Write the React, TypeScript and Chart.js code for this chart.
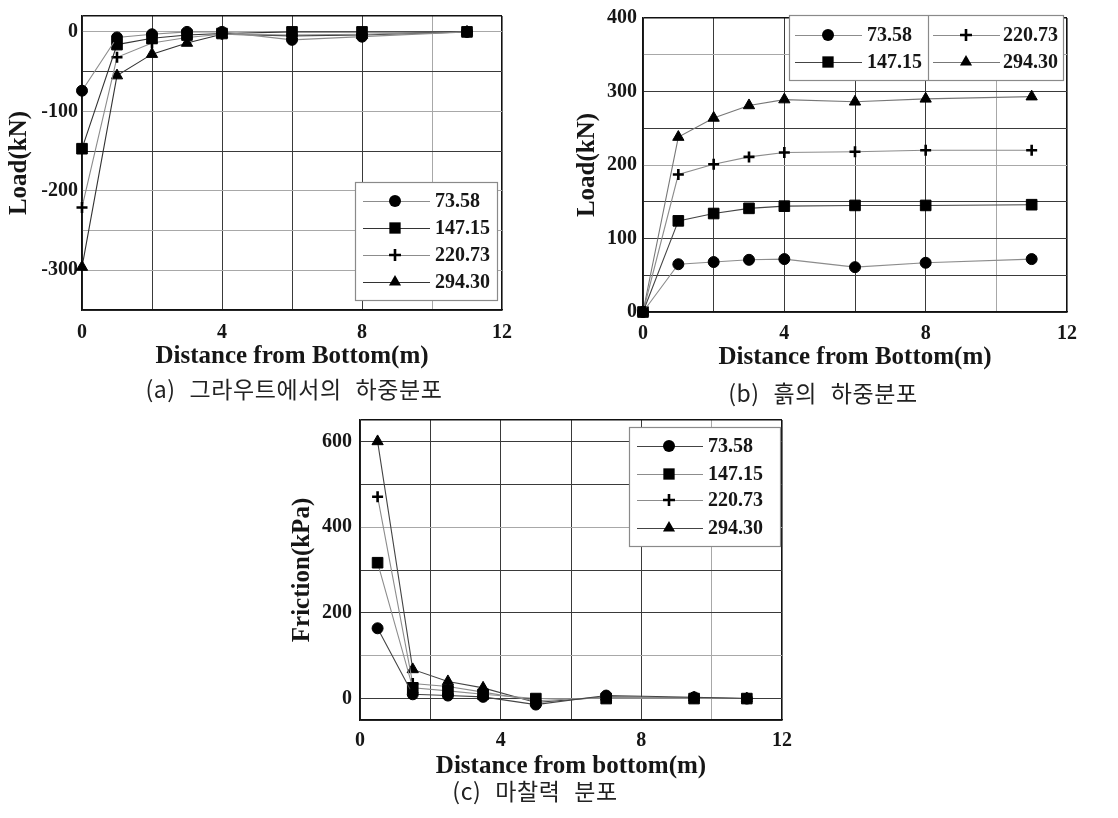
import React, { useEffect, useRef } from 'react';
import { Chart, registerables } from 'chart.js';

Chart.register(...registerables);

// ---------- data ----------
const seriesNames = ['73.58', '147.15', '220.73', '294.30'];
const pointStyles = ['circle', 'rect', 'cross', 'triangle'];

// (a) load distribution in grout
const xA = [0, 1, 2, 3, 4, 6, 8, 11];
const a7358 = [-74, -7, -3, 0, 0, -10, -6, 0];
const a14715 = [-147, -16, -8, -4, -2, 0, 0, 0];
const a22073 = [-221, -32, -14, -7, -3, -4, -3, 0];
const a29430 = [-296, -55, -28, -14, -3, -5, -4, 0];

// (b) load distribution in soil
const xB = [0, 1, 2, 3, 4, 6, 8, 11];
const b7358 = [0, 65, 68, 71, 72, 61, 67, 72];
const b14715 = [0, 124, 134, 141, 144, 145, 145, 146];
const b22073 = [0, 187, 201, 211, 217, 218, 220, 220];
const b29430 = [0, 238, 264, 281, 289, 286, 290, 293];

// (c) friction distribution
const xC = [0.5, 1.5, 2.5, 3.5, 5, 7, 9.5, 11];
const c7358 = [164, 10, 7, 4, -14, 7, 3, 0];
const c14715 = [317, 25, 18, 10, 0, 0, 0, 0];
const c22073 = [471, 35, 28, 15, -5, 3, 2, 0];
const c29430 = [600, 68, 40, 25, -9, 4, 2, 0];

// ticks
const xTicks = [0, 2, 4, 6, 8, 10, 12];
const xTickLabels = ['0', '', '4', '', '8', '', '12'];
const yTicksA = [-350, -300, -250, -200, -150, -100, -50, 0, 20];
const yLabelsA = ['', '-300', '', '-200', '', '-100', '', '0', ''];
const yTicksB = [0, 50, 100, 150, 200, 250, 300, 350, 400];
const yLabelsB = ['0', '', '100', '', '200', '', '300', '', '400'];
const yTicksC = [-50, 0, 100, 200, 300, 400, 500, 600, 650];
const yLabelsC = ['', '0', '', '200', '', '400', '', '600', ''];

const titleA = ['Distance from Bottom(m)', 'Load(kN)'];
const titleB = ['Distance from Bottom(m)', 'Load(kN)'];
const titleC = ['Distance from bottom(m)', 'Friction(kPa)'];
const captionA = '(a) 그라우트에서의 하중분포';
const captionB = '(b) 흙의 하중분포';
const captionC = '(c) 마찰력 분포';

// ---------- styling helpers ----------
const SERIF = '"Liberation Serif", "Times New Roman", serif';
const INK = '#161616';

function drawMarker(ctx: CanvasRenderingContext2D, style: string, x: number, y: number, r: number, bw: number) {
  ctx.beginPath();
  if (style === 'circle') {
    ctx.arc(x, y, r, 0, Math.PI * 2);
    ctx.fill();
  } else if (style === 'rect') {
    const s = Math.SQRT1_2 * r;
    ctx.rect(x - s, y - s, 2 * s, 2 * s);
    ctx.fill();
  } else if (style === 'cross') {
    ctx.lineWidth = bw;
    ctx.moveTo(x - r, y);
    ctx.lineTo(x + r, y);
    ctx.moveTo(x, y - r);
    ctx.lineTo(x, y + r);
    ctx.stroke();
  } else if (style === 'triangle') {
    let rad = 0;
    const t = (2 * Math.PI) / 3;
    ctx.moveTo(x + Math.sin(rad) * r, y - Math.cos(rad) * r);
    rad += t;
    ctx.lineTo(x + Math.sin(rad) * r, y - Math.cos(rad) * r);
    rad += t;
    ctx.lineTo(x + Math.sin(rad) * r, y - Math.cos(rad) * r);
    ctx.closePath();
    ctx.fill();
  }
}

const boxLegend = {
  id: 'boxLegend',
  afterDraw(chart: any, _args: any, opts: any) {
    const L = opts.layout;
    if (!L) return;
    const ctx: CanvasRenderingContext2D = chart.ctx;
    ctx.save();
    ctx.fillStyle = '#fff';
    ctx.fillRect(L.box[0], L.box[1], L.box[2], L.box[3]);
    ctx.strokeStyle = '#8a8a8a';
    ctx.lineWidth = 1.2;
    ctx.strokeRect(L.box[0] + 0.5, L.box[1] + 0.5, L.box[2], L.box[3]);
    if (L.divider) {
      ctx.beginPath();
      ctx.moveTo(L.divider + 0.5, L.box[1]);
      ctx.lineTo(L.divider + 0.5, L.box[1] + L.box[3]);
      ctx.stroke();
    }
    L.items.forEach((it: number[], i: number) => {
      const ds = chart.data.datasets[i];
      const [x1, x2, mx, tx, y] = it;
      ctx.strokeStyle = ds.borderColor;
      ctx.lineWidth = 1.2;
      ctx.beginPath();
      ctx.moveTo(x1, y + 0.5);
      ctx.lineTo(x2, y + 0.5);
      ctx.stroke();
      ctx.fillStyle = '#000';
      ctx.strokeStyle = '#000';
      drawMarker(ctx, ds.pointStyle, mx, y, ds.pointRadius + 0.5, ds.pointBorderWidth);
      ctx.fillStyle = INK;
      ctx.font = `bold 20px ${SERIF}`;
      ctx.textAlign = 'left';
      ctx.textBaseline = 'middle';
      ctx.fillText(ds.label, tx, y + 1);
    });
    ctx.restore();
  },
};

const radii: Record<string, number> = { circle: 5.5, rect: 7.5, cross: 5.5, triangle: 6.5 };

function buildConfig(p: any) {
  const datasets = p.series.map((vals: number[], i: number) => ({
    label: seriesNames[i],
    data: p.x.map((xv: number, j: number) => ({ x: xv, y: vals[j] })),
    borderColor: p.lineColors[i],
    borderWidth: 1.1,
    pointStyle: pointStyles[i],
    pointRadius: radii[pointStyles[i]],
    pointBorderWidth: pointStyles[i] === 'cross' ? 2.6 : 1,
    pointBackgroundColor: '#000',
    pointBorderColor: '#000',
    clip: false,
    tension: 0,
    fill: false,
  }));
  const gridColor = (light: number[], edge: number[]) => (c: any) => {
    const v = c.tick ? c.tick.value : null;
    if (edge.includes(v)) return '#111';
    return light.includes(v) ? '#a8a8a8' : '#3a3a3a';
  };
  const gridWidth = (edge: number[]) => (c: any) => (c.tick && edge.includes(c.tick.value) ? 1.6 : 1);
  return {
    type: 'scatter',
    data: { datasets },
    plugins: [boxLegend],
    options: {
      animation: false,
      responsive: false,
      showLine: true,
      layout: { padding: { left: 0, top: p.top, right: p.right, bottom: 0 } },
      plugins: {
        legend: { display: false },
        tooltip: { enabled: false },
        boxLegend: { layout: p.legend },
      },
      scales: {
        x: {
          type: 'linear',
          min: 0,
          max: 12,
          afterBuildTicks: (s: any) => {
            s.ticks = xTicks.map((v) => ({ value: v }));
          },
          afterFit: (s: any) => {
            s.height = p.xAxisH;
          },
          ticks: {
            autoSkip: false,
            maxRotation: 0,
            padding: p.xTickPad,
            color: INK,
            font: { family: SERIF, weight: 'bold', size: 20 },
            callback: (_v: any, i: number) => xTickLabels[i],
          },
          grid: {
            drawTicks: false,
            color: gridColor(p.xLight, [12]),
            lineWidth: gridWidth([12]),
          },
          border: { color: '#111', width: 1.6 },
          title: {
            display: true,
            text: p.titles[0],
            color: INK,
            font: { family: SERIF, weight: 'bold', size: 25 },
            padding: { top: 0, bottom: p.xTitlePad },
          },
        },
        y: {
          type: 'linear',
          min: p.yTicks[0],
          max: p.yTicks[p.yTicks.length - 1],
          afterBuildTicks: (s: any) => {
            s.ticks = p.yTicks.map((v: number) => ({ value: v }));
          },
          afterFit: (s: any) => {
            s.width = p.yAxisW;
          },
          ticks: {
            autoSkip: false,
            padding: p.yTickPad,
            color: INK,
            font: { family: SERIF, weight: 'bold', size: 20 },
            callback: (_v: any, i: number) => p.yLabels[i],
          },
          grid: {
            drawTicks: false,
            color: gridColor(p.yLight, [p.yTicks[p.yTicks.length - 1]]),
            lineWidth: gridWidth([p.yTicks[p.yTicks.length - 1]]),
          },
          border: { color: '#111', width: 1.6 },
          title: {
            display: true,
            text: p.titles[1],
            color: INK,
            font: { family: SERIF, weight: 'bold', size: 25 },
            padding: { top: p.yTitlePad, bottom: 0 },
          },
        },
      },
    },
  };
}

function Panel(props: { p: any; left: number; top: number; w: number; h: number }) {
  const ref = useRef<HTMLCanvasElement>(null);
  useEffect(() => {
    if (!ref.current) return;
    const chart = new Chart(ref.current, buildConfig(props.p) as any);
    return () => chart.destroy();
  }, []);
  return (
    <canvas
      ref={ref}
      width={props.w}
      height={props.h}
      style={{ position: 'absolute', left: props.left, top: props.top, width: props.w, height: props.h }}
    />
  );
}

const panelA = {
  x: xA,
  series: [a7358, a14715, a22073, a29430],
  lineColors: ['#8c8c8c', '#333', '#8c8c8c', '#333'],
  yTicks: yTicksA,
  yLabels: yLabelsA,
  titles: titleA,
  top: 10,
  right: 43,
  yAxisW: 82,
  xAxisH: 65,
  xTickPad: 11,
  xTitlePad: 3,
  yTickPad: 4,
  yTitlePad: 5,
  xLight: [10],
  yLight: [0, -100, -200, -250, -300],
  legend: {
    box: [355, 182, 142, 118],
    items: [
      [363, 430, 395, 435, 201],
      [363, 430, 395, 435, 228],
      [363, 430, 395, 435, 255],
      [363, 430, 395, 435, 282],
    ],
  },
};

const panelB = {
  x: xB,
  series: [b7358, b14715, b22073, b29430],
  lineColors: ['#8c8c8c', '#444', '#8c8c8c', '#777'],
  yTicks: yTicksB,
  yLabels: yLabelsB,
  titles: titleB,
  top: 12,
  right: 51,
  yAxisW: 83,
  xAxisH: 63,
  xTickPad: 10,
  xTitlePad: 2,
  yTickPad: 6,
  yTitlePad: 13,
  xLight: [10],
  yLight: [200, 350],
  legend: {
    box: [229, 15, 274, 65],
    divider: 368,
    items: [
      [235, 302, 268, 307, 35],
      [235, 302, 268, 307, 62],
      [373, 440, 406, 443, 35],
      [373, 440, 406, 443, 62],
    ],
  },
};

const panelC = {
  x: xC,
  series: [c7358, c14715, c22073, c29430],
  lineColors: ['#444', '#8c8c8c', '#8c8c8c', '#444'],
  yTicks: yTicksC,
  yLabels: yLabelsC,
  titles: titleC,
  top: 20,
  right: 58,
  yAxisW: 80,
  xAxisH: 70,
  xTickPad: 9,
  xTitlePad: 8,
  yTickPad: 8,
  yTitlePad: 8,
  xLight: [10],
  yLight: [100, 400],
  legend: {
    box: [349, 27, 151, 119],
    items: [
      [357, 423, 389, 428, 46],
      [357, 423, 389, 428, 74],
      [357, 423, 389, 428, 100],
      [357, 423, 389, 428, 128],
    ],
  },
};

const capStyle = (cx: number, cy: number): React.CSSProperties => ({
  position: 'absolute',
  left: cx - 200,
  top: cy - 13,
  width: 400,
  height: 26,
  lineHeight: '26px',
  textAlign: 'center',
  fontFamily: '"Noto Sans CJK KR", sans-serif',
  fontSize: 23,
  letterSpacing: '0.6px',
  wordSpacing: '8px',
  color: '#222',
  whiteSpace: 'pre',
});

export default function App() {
  return (
    <div style={{ position: 'absolute', left: 0, top: 0, width: 1118, height: 818, background: '#fff', overflow: 'hidden' }}>
      <Panel p={panelA} left={0} top={0} w={545} h={375} />
      <Panel p={panelB} left={560} top={0} w={558} h={375} />
      <Panel p={panelC} left={280} top={400} w={560} h={390} />
      <div style={capStyle(294, 388)}>{captionA}</div>
      <div style={capStyle(823, 392)}>{captionB}</div>
      <div style={capStyle(535, 790)}>{captionC}</div>
    </div>
  );
}
